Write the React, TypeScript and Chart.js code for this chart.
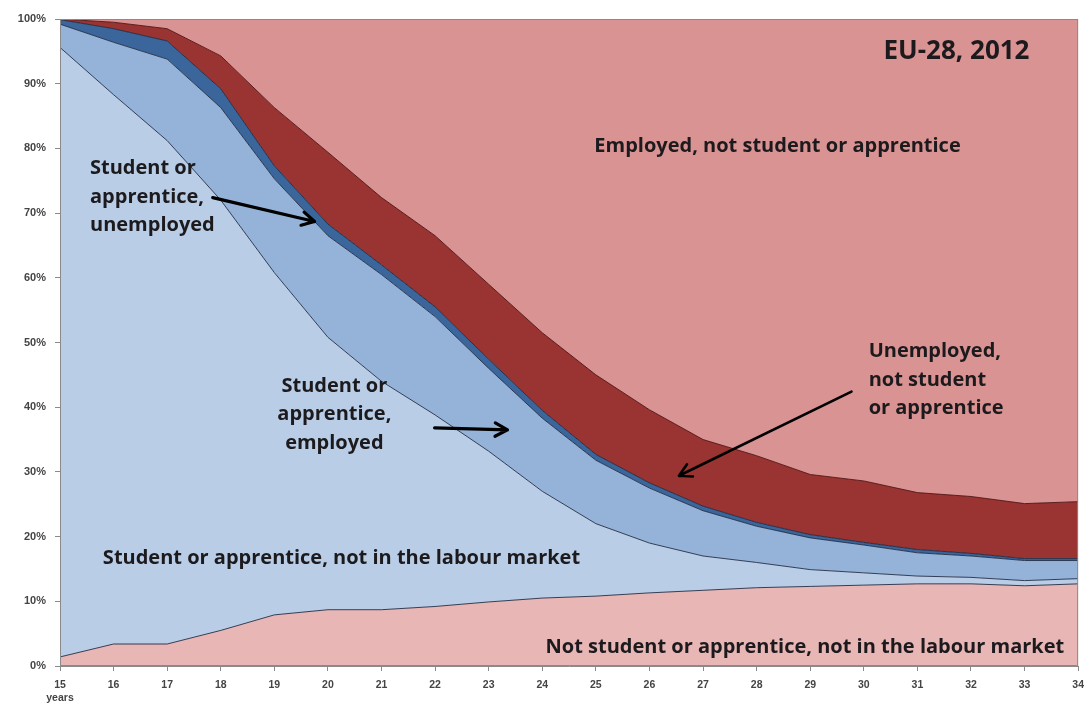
import React, { useEffect, useRef } from "react";
import { Chart, registerables } from "chart.js";

Chart.register(...registerables);

// ---- DATA (shares of population, %, by age) ----
const ages = [15, 16, 17, 18, 19, 20, 21, 22, 23, 24, 25, 26, 27, 28, 29, 30, 31, 32, 33, 34];
const notStudentNotInLabourMarket = [1.4, 3.4, 3.4, 5.5, 7.9, 8.7, 8.7, 9.2, 9.9, 10.5, 10.8, 11.3, 11.7, 12.1, 12.3, 12.5, 12.7, 12.7, 12.4, 12.7];
const studentNotInLabourMarket = [94.2, 84.9, 77.8, 66.5, 52.9, 42.1, 35.3, 29.6, 23.3, 16.5, 11.2, 7.7, 5.3, 3.9, 2.6, 1.9, 1.2, 1.0, 0.8, 0.8];
const studentEmployed = [3.6, 8.1, 12.6, 14.3, 14.5, 15.7, 16.5, 15.2, 12.8, 11.3, 9.8, 8.5, 7.0, 5.6, 4.9, 4.3, 3.6, 3.3, 3.1, 2.8];
const studentUnemployed = [0.7, 2.1, 2.8, 2.9, 2.0, 1.8, 1.5, 1.5, 1.4, 1.2, 0.9, 0.8, 0.7, 0.6, 0.5, 0.4, 0.5, 0.4, 0.3, 0.3];
const unemployedNotStudent = [0.1, 1.0, 1.9, 5.1, 9.0, 11.1, 10.4, 11.0, 11.6, 12.0, 12.3, 11.3, 10.3, 10.3, 9.3, 9.5, 8.8, 8.8, 8.5, 8.8];
const employedNotStudent = [0.0, 0.5, 1.5, 5.7, 13.7, 20.6, 27.6, 33.5, 41.0, 48.5, 55.0, 60.4, 65.0, 67.5, 70.4, 71.4, 73.2, 73.8, 74.9, 74.6];
const yTickValues = [0, 10, 20, 30, 40, 50, 60, 70, 80, 90, 100];

const seriesNames = [
  "Not student or apprentice, not in the labour market",
  "Student or apprentice, not in the labour market",
  "Student or apprentice, employed",
  "Student or apprentice, unemployed",
  "Unemployed, not student or apprentice",
  "Employed, not student or apprentice",
];
const seriesValues = [
  notStudentNotInLabourMarket,
  studentNotInLabourMarket,
  studentEmployed,
  studentUnemployed,
  unemployedNotStudent,
  employedNotStudent,
];
const seriesColors = ["#E7B6B5", "#B9CEE6", "#95B3D8", "#3B669B", "#9A3432", "#D99393"];

// annotation texts, positioned in data units (age, %)
const labels = [
  { lines: ["EU-28, 2012"], x: 31.73, y: 95, align: "center", size: 26 },
  { lines: ["Employed, not student or apprentice"], x: 28.39, y: 80.3, align: "center", size: 20 },
  { lines: ["Student or", "apprentice,", "unemployed"], x: 15.56, y: 76.9, align: "left", size: 20 },
  { lines: ["Student or", "apprentice,", "employed"], x: 20.12, y: 43.3, align: "center", size: 20 },
  { lines: ["Unemployed,", "not student", "or apprentice"], x: 30.09, y: 48.6, align: "left", size: 20 },
  { lines: ["Student or apprentice, not in the labour market"], x: 15.8, y: 16.6, align: "left", size: 20 },
  { lines: ["Not student or apprentice, not in the labour market"], x: 33.74, y: 2.9, align: "right", size: 20 },
];
const arrows = [
  { from: [17.85, 72.4], to: [19.75, 68.7], width: 3.2 },
  { from: [21.99, 36.8], to: [23.35, 36.5], width: 3.2 },
  { from: [29.77, 42.4], to: [26.55, 29.4], width: 2.6 },
];

const FONT = "'Open Sans', 'Noto Sans', sans-serif";

const annotationPlugin = {
  id: "annotations",
  afterDatasetsDraw(chart: any) {
    const { ctx, chartArea, scales } = chart;
    const xs = scales.x;
    const ys = scales.y;
    ctx.save();
    // frame
    ctx.strokeStyle = "#8a8a8a";
    ctx.lineWidth = 1;
    ctx.strokeRect(chartArea.left + 0.5, chartArea.top + 0.5, chartArea.right - chartArea.left - 1, chartArea.bottom - chartArea.top - 1);
    // texts
    ctx.fillStyle = "#1d1a1e";
    ctx.textBaseline = "middle";
    labels.forEach((t) => {
      ctx.font = `bold ${t.size}px ${FONT}`;
      ctx.textAlign = t.align;
      const px = xs.getPixelForValue(t.x);
      const py = ys.getPixelForValue(t.y);
      t.lines.forEach((line, i) => ctx.fillText(line, px, py + i * 28.6));
    });
    // arrows
    ctx.strokeStyle = "#000";
    ctx.lineCap = "round";
    ctx.lineJoin = "round";
    arrows.forEach((a) => {
      const x1 = xs.getPixelForValue(a.from[0]);
      const y1 = ys.getPixelForValue(a.from[1]);
      const x2 = xs.getPixelForValue(a.to[0]);
      const y2 = ys.getPixelForValue(a.to[1]);
      ctx.lineWidth = a.width;
      ctx.beginPath();
      ctx.moveTo(x1, y1);
      ctx.lineTo(x2, y2);
      const ang = Math.atan2(y2 - y1, x2 - x1);
      const len = 14;
      const spread = 0.5;
      ctx.moveTo(x2 - len * Math.cos(ang - spread), y2 - len * Math.sin(ang - spread));
      ctx.lineTo(x2, y2);
      ctx.lineTo(x2 - len * Math.cos(ang + spread), y2 - len * Math.sin(ang + spread));
      ctx.stroke();
    });
    ctx.restore();
  },
};

export default function App() {
  const canvasRef = useRef<HTMLCanvasElement | null>(null);

  useEffect(() => {
    if (!canvasRef.current) return;
    const datasets = seriesValues.map((vals, i) => ({
      label: seriesNames[i],
      data: vals.map((v, j) => ({ x: ages[j], y: v })),
      backgroundColor: seriesColors[i],
      borderColor: i === 5 ? "rgba(0,0,0,0)" : i === 4 ? "rgba(80,20,20,0.9)" : "rgba(25,35,60,0.85)",
      borderWidth: i === 5 ? 0 : 1,
      fill: i === 0 ? "origin" : "-1",
      pointRadius: 0,
      tension: 0,
    }));
    const chart = new Chart(canvasRef.current, {
      type: "line",
      data: { datasets },
      plugins: [annotationPlugin],
      options: {
        responsive: false,
        animation: false,
        devicePixelRatio: 1,
        layout: { padding: { top: 19, right: 12, left: 0, bottom: 0 } },
        plugins: { legend: { display: false }, tooltip: { enabled: false } },
        scales: {
          x: {
            type: "linear",
            min: 15,
            max: 34,
            afterFit: (s: any) => {
              s.height = 43;
            },
            afterBuildTicks: (s: any) => {
              s.ticks = ages.map((a) => ({ value: a }));
            },
            border: { display: true, color: "#8a8a8a" },
            grid: { display: true, drawOnChartArea: false, drawTicks: true, tickLength: 5, color: "#8a8a8a" },
            ticks: {
              color: "#444",
              font: { family: "'Liberation Sans', Arial, sans-serif", weight: "bold", size: 10.5 },
              padding: 8,
              maxRotation: 0,
              autoSkip: false,
              callback: (v: any) => (v === ages[0] ? [String(v), "years"] : String(v)),
            },
          },
          y: {
            stacked: true,
            min: 0,
            max: 100,
            afterFit: (s: any) => {
              s.width = 60;
            },
            afterBuildTicks: (s: any) => {
              s.ticks = yTickValues.map((v) => ({ value: v }));
            },
            border: { display: true, color: "#8a8a8a" },
            grid: { display: true, drawOnChartArea: false, drawTicks: true, tickLength: 5, color: "#8a8a8a" },
            ticks: {
              color: "#444",
              font: { family: "'Liberation Sans', Arial, sans-serif", weight: "bold", size: 11 },
              padding: 9,
              callback: (v: any) => `${v}%`,
            },
          },
        },
      },
    });
    return () => chart.destroy();
  }, []);

  return (
    <div style={{ position: "fixed", left: 0, top: 0, width: 1092, height: 709, background: "#fff" }}>
      <canvas ref={canvasRef} width={1092} height={709} style={{ display: "block" }} />
    </div>
  );
}
